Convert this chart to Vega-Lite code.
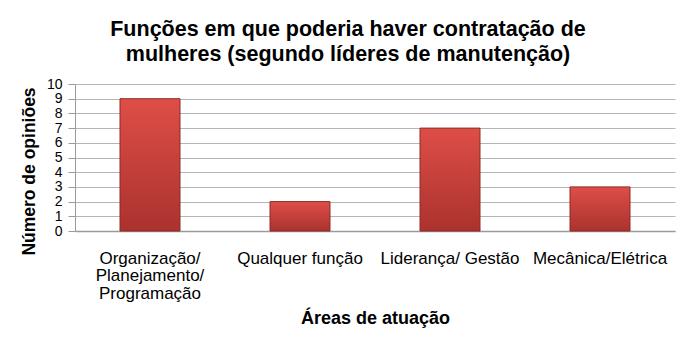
{
  "$schema": "https://vega.github.io/schema/vega-lite/v6.json",
  "width": 600,
  "height": 147,
  "autosize": {"type": "none"},
  "padding": {"left": 75, "top": 84, "right": 18, "bottom": 121},
  "background": "white",
  "title": {
    "text": ["Funções em que poderia haver contratação de", "mulheres (segundo líderes de manutenção)"],
    "font": "Liberation Sans",
    "fontSize": 21.5,
    "fontWeight": "bold",
    "lineHeight": 25,
    "color": "#000000",
    "anchor": "middle",
    "dx": -27,
    "offset": 12
  },
  "data": {
    "values": [
      {"area": "Organização/|Planejamento/|Programação", "opinioes": 9},
      {"area": "Qualquer função", "opinioes": 2},
      {"area": "Liderança/ Gestão", "opinioes": 7},
      {"area": "Mecânica/Elétrica", "opinioes": 3}
    ]
  },
  "mark": {
    "type": "bar",
    "color": {
      "gradient": "linear",
      "x1": 0, "y1": 0, "x2": 0, "y2": 1,
      "stops": [
        {"offset": 0, "color": "#de4e47"},
        {"offset": 1, "color": "#ab322e"}
      ]
    },
    "stroke": "#8e2a27",
    "strokeWidth": 1
  },
  "encoding": {
    "x": {
      "field": "area",
      "type": "nominal",
      "sort": null,
      "scale": {"paddingInner": 0.6, "paddingOuter": 0.3},
      "axis": {
        "title": "Áreas de atuação",
        "titleFont": "Liberation Sans",
        "titleFontSize": 18,
        "titleFontWeight": "bold",
        "titleColor": "#000000",
        "titlePadding": 8,
        "labelExpr": "split(datum.label, '|')",
        "labelAngle": 0,
        "labelFont": "Liberation Sans",
        "labelFontSize": 17,
        "labelLineHeight": 17.5,
        "labelColor": "#000000",
        "labelPadding": 19,
        "labelLimit": 0,
        "ticks": false,
        "domainColor": "#9a9a9a",
        "domainWidth": 1.5
      }
    },
    "y": {
      "field": "opinioes",
      "type": "quantitative",
      "scale": {"domain": [0, 10]},
      "axis": {
        "title": "Número de opiniões",
        "titleFont": "Liberation Sans",
        "titleFontSize": 17.5,
        "titleFontWeight": "bold",
        "titleColor": "#000000",
        "titlePadding": 8,
        "titleY": 87,
        "values": [0, 1, 2, 3, 4, 5, 6, 7, 8, 9, 10],
        "labelOverlap": false,
        "labelFont": "Liberation Sans",
        "labelFontSize": 14,
        "labelColor": "#000000",
        "labelPadding": 6,
        "tickSize": 7,
        "tickColor": "#9a9a9a",
        "domainColor": "#9a9a9a",
        "gridColor": "#b5b5b5",
        "gridWidth": 1.2
      }
    }
  },
  "config": {
    "view": {"stroke": null}
  }
}
